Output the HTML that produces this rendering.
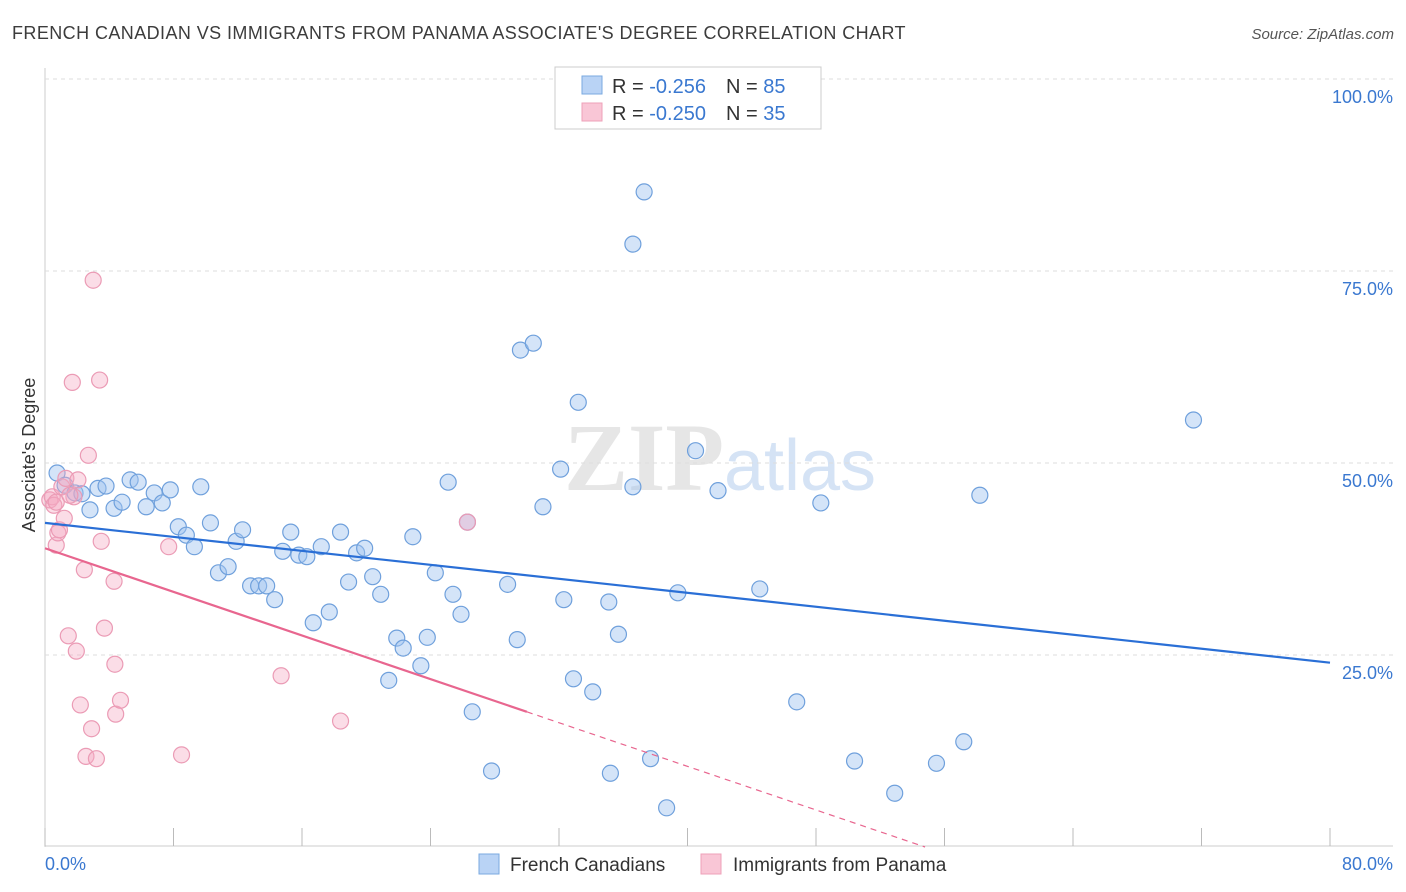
<!DOCTYPE html>
<html><head><meta charset="utf-8">
<style>
body{margin:0;background:#fff;font-family:"Liberation Sans",sans-serif;}
svg{display:block}
</style></head>
<body>
<svg id="chart" width="1406" height="892" xmlns="http://www.w3.org/2000/svg">
<text x="12" y="39" font-size="18" letter-spacing="0.42" fill="#3c3c3c">FRENCH CANADIAN VS IMMIGRANTS FROM PANAMA ASSOCIATE'S DEGREE CORRELATION CHART</text>
<text x="1394" y="39" font-size="15" fill="#555" text-anchor="end" font-style="italic">Source: ZipAtlas.com</text>
<text x="720" y="490" font-size="96" fill="#e6e6e6" text-anchor="middle" font-family="Liberation Serif,serif"><tspan font-weight="bold">ZIP</tspan><tspan fill="#d5e3f5" font-family="Liberation Sans,sans-serif" font-size="72">atlas</tspan></text>
<g id="grid"></g>
<g id="pts"></g>
<g id="lines"></g>
<text x="35" y="455" font-size="18" fill="#333" text-anchor="middle" transform="rotate(-90 35 455)">Associate's Degree</text>
<g>
<rect x="555" y="67" width="266" height="62" fill="#fff" stroke="#ccc"/>
<rect x="582" y="76" width="20" height="18" fill="#b9d3f5" stroke="#7aa9e0"/>
<rect x="582" y="103" width="20" height="18" fill="#f9c6d6" stroke="#eea0b8"/>
<text x="612" y="93" font-size="20" fill="#333">R = <tspan fill="#3a78d0">-0.256</tspan><tspan dx="20">N = </tspan><tspan fill="#3a78d0">85</tspan></text>
<text x="612" y="120" font-size="20" fill="#333">R = <tspan fill="#3a78d0">-0.250</tspan><tspan dx="20">N = </tspan><tspan fill="#3a78d0">35</tspan></text>
</g>
<g>
<rect x="479" y="854" width="20" height="20" fill="#b9d3f5" stroke="#7aa9e0"/>
<text x="510" y="871" font-size="19" fill="#333">French Canadians</text>
<rect x="701" y="854" width="20" height="20" fill="#f9c6d6" stroke="#eea0b8"/>
<text x="733" y="871" font-size="19" fill="#333">Immigrants from Panama</text>
</g>
</svg>
<script>
const xTicks=[0,8,16,24,32,40,48,56,64,72,80];
const yTicks=[25,50,75,100];
const blueX=[0.75,1.25,1.87,2.3,2.8,3.3,3.8,4.3,4.8,5.3,5.8,6.3,6.8,7.3,7.8,8.3,8.8,9.3,9.7,10.3,10.8,11.4,11.9,12.3,12.8,13.3,13.8,14.3,14.8,15.3,15.8,16.3,16.7,17.2,17.7,18.4,18.9,19.4,19.9,20.4,20.9,21.4,21.9,22.3,22.9,23.4,23.8,24.3,25.1,25.4,25.9,26.6,27.8,28.8,29.4,29.6,30.4,31.0,32.1,32.3,32.9,33.2,34.1,35.1,35.2,35.7,36.6,36.6,37.3,37.7,38.7,39.4,40.5,41.9,44.5,46.8,48.3,50.4,52.9,55.5,57.2,58.2,71.5,26.3];
const blueY=[48.7,47.1,46.1,46.0,43.9,46.7,47.0,44.1,44.9,47.8,47.5,44.3,46.1,44.8,46.5,41.7,40.6,39.1,46.9,42.2,35.7,36.5,39.8,41.3,34.0,34.0,34.0,32.2,38.5,41.0,38.0,37.8,29.2,39.1,30.6,41.0,34.5,38.3,38.9,35.2,32.9,21.7,27.2,25.9,40.4,23.6,27.3,35.7,47.5,32.9,30.3,17.6,9.9,34.2,27.0,64.7,65.6,44.3,49.2,32.2,21.9,57.9,20.2,31.9,9.6,27.7,46.9,78.5,85.3,11.5,5.1,33.1,51.6,46.4,33.6,18.9,44.8,11.2,7.0,10.9,13.7,45.8,55.6,42.3];
const pinkX=[0.3,0.45,0.55,0.7,0.8,0.9,1.05,1.2,1.3,1.45,1.7,1.8,1.95,2.05,2.2,2.45,2.55,2.7,2.9,3.0,3.2,3.4,3.5,3.7,4.3,4.35,4.4,4.7,7.7,8.5,14.7,18.4,26.3,0.7,1.55];
const pinkY=[45.2,45.6,44.5,39.3,40.9,41.3,46.9,42.8,48.0,27.5,60.5,45.6,25.5,47.8,18.5,36.1,11.8,51.0,15.4,73.8,11.5,60.8,39.8,28.5,34.6,23.8,17.3,19.1,39.1,12.0,22.3,16.4,42.3,44.9,45.8];
const blueLine=[42.2,24.0];
const pinkLine=[38.9,-0.71];
const X=v=>45+v*(1285/80);
const Y=v=>847-v*7.68;
const NS="http://www.w3.org/2000/svg";
function mk(tag,attrs,parent){const e=document.createElementNS(NS,tag);for(const k in attrs)e.setAttribute(k,attrs[k]);parent.appendChild(e);return e;}
const grid=document.getElementById('grid');
mk('line',{x1:45,y1:68,x2:45,y2:847,stroke:'#ccc'},grid);
mk('line',{x1:45,y1:846,x2:1393,y2:846,stroke:'#ccc'},grid);
yTicks.forEach(t=>{
 const l=mk('line',{x1:45,y1:Y(t),x2:1393,y2:Y(t),stroke:'#ddd','stroke-dasharray':'4,4'},grid);
 
 
 const tx=mk('text',{x:1393,y:Y(t)+24,'font-size':18,fill:'#3a78d0','text-anchor':'end'},grid);
 tx.textContent=t.toFixed(1)+'%';
 
 
});
xTicks.forEach(t=>{
 const l=mk('line',{x1:X(t),y1:828,x2:X(t),y2:846,stroke:'#bbb'},grid);
 
 
});
const t0=mk('text',{x:45,y:870,'font-size':18,fill:'#3a78d0'},grid);t0.textContent='0.0%';


const t1=mk('text',{x:1393,y:870,'font-size':18,fill:'#3a78d0','text-anchor':'end'},grid);t1.textContent='80.0%';


const pts=document.getElementById('pts');
blueX.forEach((x,i)=>{
 const c=mk('circle',{cx:X(x),cy:Y(blueY[i]),r:8,fill:'rgba(160,195,240,0.45)',stroke:'#6fa0dc','stroke-width':1.2},pts);
 
 
});
pinkX.forEach((x,i)=>{
 const c=mk('circle',{cx:X(x),cy:Y(pinkY[i]),r:8,fill:'rgba(245,170,195,0.4)',stroke:'#eb9bb5','stroke-width':1.2},pts);
 
 
});
const lines=document.getElementById('lines');
const bl=mk('line',{x1:X(0),y1:Y(blueLine[0]),x2:X(80),y2:Y(blueLine[1]),stroke:'#2a6fd6','stroke-width':2.2},lines);


const pe=30, pz=-pinkLine[0]/pinkLine[1];
const pl=mk('line',{x1:X(0),y1:Y(pinkLine[0]),x2:X(pe),y2:Y(pinkLine[0]+pinkLine[1]*pe),stroke:'#e8668f','stroke-width':2.2},lines);


const pd=mk('line',{x1:X(pe),y1:Y(pinkLine[0]+pinkLine[1]*pe),x2:X(pz),y2:Y(0),stroke:'#e8668f','stroke-width':1.2,'stroke-dasharray':'6,5'},lines);


</script>
</body></html>
